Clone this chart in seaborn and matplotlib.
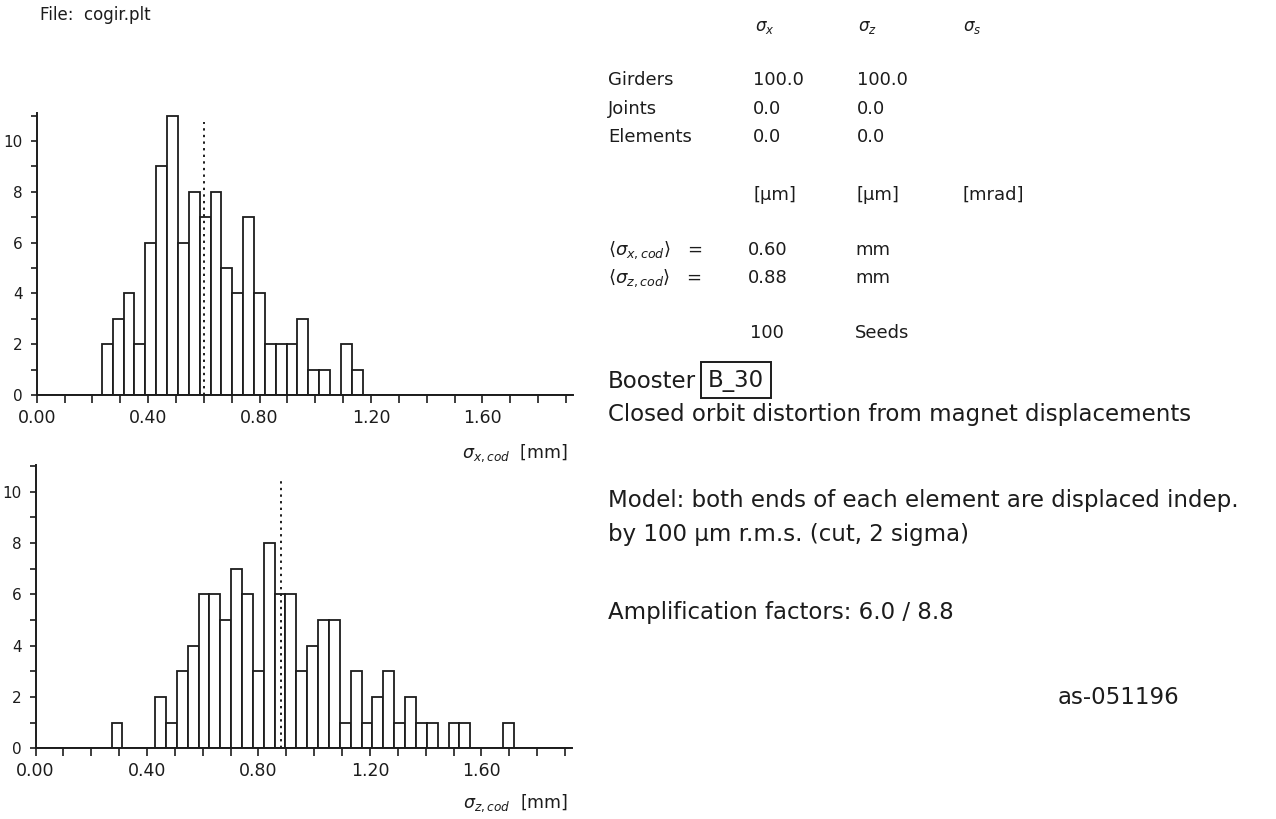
import numpy as np
import pandas as pd
import matplotlib
matplotlib.use("Agg")
import matplotlib.pyplot as plt
import seaborn as sns

# Histogram of the r.m.s. closed orbit over 100 seeds (bin width 0.039 mm)
BIN_WIDTH = 0.039
N_BINS = 50

sigma_x_first_bin = 6
sigma_x_counts = [2, 3, 4, 2, 6, 9, 11, 6, 8, 7, 8, 5, 4, 7, 4, 2, 2, 2, 3, 1, 1, 0, 2, 1]
sigma_x_mean = 0.60

sigma_z_first_bin = 7
sigma_z_counts = [1, 0, 0, 0, 2, 1, 3, 4, 6, 6, 5, 7, 6, 3, 8, 6, 6, 3, 4, 5, 5, 1, 3, 1,
                  2, 3, 1, 2, 1, 1, 0, 1, 1, 0, 0, 0, 1]
sigma_z_mean = 0.88

x_tick_values = [0.0, 0.4, 0.8, 1.2, 1.6]

table_rows = ["Girders", "Joints", "Elements"]
table_sx = ["100.0", "0.0", "0.0"]
table_sz = ["100.0", "0.0", "0.0"]
n_seeds = 100
amplification = (6.0, 8.8)

INK = "#1c1c1c"
W, H = 1276, 819
FAMILY = ["DejaVu Sans"]

sns.set_style("ticks")
plt.rcParams["font.family"] = FAMILY
plt.rcParams["mathtext.fontset"] = "dejavusans"

fig = plt.figure(figsize=(W / 100, H / 100), dpi=100)
fig.patch.set_facecolor("white")


def frame(counts, first_bin):
    idx = np.arange(first_bin, first_bin + len(counts))
    return pd.DataFrame({"value": (idx + 0.5) * BIN_WIDTH,
                         "count": np.asarray(counts, dtype=float)})


def draw_hist(rect, counts, first_bin, mean, ylim, vline_top):
    ax = fig.add_axes(rect)
    df = frame(counts, first_bin)
    sns.histplot(data=df, x="value", weights="count", binwidth=BIN_WIDTH,
                 binrange=(0, N_BINS * BIN_WIDTH), ax=ax,
                 color="white", edgecolor=INK, linewidth=1.3, alpha=1.0)
    ax.axvline(mean, ymin=0, ymax=vline_top / ylim, color=INK, lw=1.4,
               ls=(0, (1.2, 2.2)))
    ax.set_xlim(0, 1.925)
    ax.set_ylim(0, ylim)
    ticks = np.round(np.arange(0, 1.95, 0.1), 2)
    ax.set_xticks(ticks)
    ax.set_xticklabels([f"{v:.2f}" if any(abs(v - t) < 1e-6 for t in x_tick_values) else ""
                        for v in ticks])
    ax.set_yticks(range(0, 12))
    ax.set_yticklabels([str(v) if v % 2 == 0 and v <= 10 else "" for v in range(0, 12)])
    ax.tick_params(axis="x", length=6, width=1.2, color=INK, labelsize=12.5,
                   labelcolor=INK, pad=4)
    ax.tick_params(axis="y", length=4, width=1.2, color=INK, labelsize=11,
                   labelcolor=INK, pad=6)
    for side in ("top", "right"):
        ax.spines[side].set_visible(False)
    for side in ("left", "bottom"):
        ax.spines[side].set_color(INK)
        ax.spines[side].set_linewidth(1.4)
    ax.set_xlabel("")
    ax.set_ylabel("")
    ax.set_facecolor("none")
    return ax


draw_hist([36.7 / W, 1 - 395 / H, (573 - 36.7) / W, (395 - 113) / H],
          sigma_x_counts, sigma_x_first_bin, sigma_x_mean, 11.1, 10.75)
draw_hist([35.5 / W, 1 - 748.3 / H, (572 - 35.5) / W, (748.3 - 465) / H],
          sigma_z_counts, sigma_z_first_bin, sigma_z_mean, 11.04, 10.5)


def put(x, y, s, size=13, ha="left", **kw):
    fig.text(x / W, 1 - y / H, s, fontsize=size, ha=ha, va="center", color=INK,
             family=FAMILY, **kw)


# axis titles
put(568, 453, r"$\sigma_{x,cod}$  [mm]", size=12.5, ha="right")
put(568, 803, r"$\sigma_{z,cod}$  [mm]", size=12.5, ha="right")

put(40, 15, "File:  cogir.plt", size=12)

# tolerance table
put(755, 27, r"$\sigma_x$", size=12)
put(858, 27, r"$\sigma_z$", size=12)
put(963, 27, r"$\sigma_s$", size=12)
for i, (name, sx, sz) in enumerate(zip(table_rows, table_sx, table_sz)):
    y = 80 + 28.5 * i
    put(608, y, name)
    put(753, y, sx)
    put(857, y, sz)
put(753, 195, "[μm]")
put(857, 195, "[μm]")
put(963, 195, "[mrad]")
put(608, 250, r"$\langle\sigma_{x,cod}\rangle$   =")
put(748, 250, f"{sigma_x_mean:.2f}")
put(855, 250, "mm")
put(608, 278, r"$\langle\sigma_{z,cod}\rangle$   =")
put(748, 278, f"{sigma_z_mean:.2f}")
put(855, 278, "mm")
put(750, 333, f"{n_seeds}")
put(855, 333, "Seeds")

# description
BIG = 16.5
put(608, 381, "Booster", size=BIG)
put(708, 380, "B_30", size=BIG,
    bbox=dict(boxstyle="square,pad=0.3", fc="none", ec=INK, lw=1.4))
put(608, 415, "Closed orbit distortion from magnet displacements", size=BIG)
put(608, 500, "Model: both ends of each element are displaced indep.", size=BIG)
put(608, 534, "by 100 μm r.m.s. (cut, 2 sigma)", size=BIG)
put(608, 613, f"Amplification factors: {amplification[0]:.1f} / {amplification[1]:.1f}", size=BIG)
put(1058, 697, "as-051196", size=BIG)

fig.savefig("out.png", dpi=100, facecolor="white")
